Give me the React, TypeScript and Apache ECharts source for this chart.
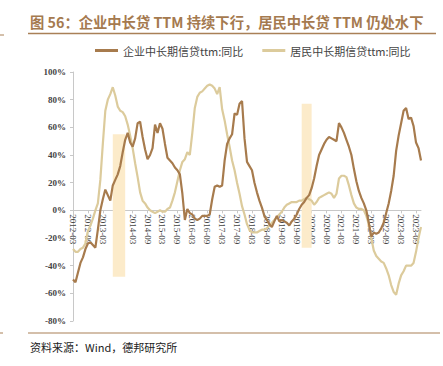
import React, { useEffect, useRef } from "react";
import * as echarts from "echarts";

// Monthly categories 2012-03 .. 2023-11
const months: string[] = [];
for (let y = 2012, m = 3; months.length < 141; ) {
  months.push(`${y}-${m < 10 ? "0" + m : m}`);
  m++;
  if (m > 12) { m = 1; y++; }
}

const corpName = "企业中长期信贷ttm:同比";
const houseName = "居民中长期信贷ttm:同比";

const corpValues = [
  -50, -52, -45, -38, -34, -28, -24, -23, -25, -27,
  -14, 0, 8, 15, 11, 7, 18, 22, 26, 32,
  42, 51, 56, 49, 46, 52, 63, 64, 53, 44,
  37, 40, 45, 62, 56, 63, 59, 48, 38, 36,
  34, 31, 29, 26, 12, -7, 1, -2, -3, -6,
  -7, -6, -4, -4, -4, -3, 8, 17, 18, 17,
  18, 36, 48, 52, 55, 70, 69, 77, 79, 52,
  35, 32, 29, 20, 13, 7, 2, -4, -7, -10,
  -12, -8, -4, -8, -7, -8, -9, -11, -8, -6,
  -3, 1, 4, 6, 9, 11, 16, 23, 32, 40,
  44, 48, 51, 53, 52, 51, 50, 63, 60, 56,
  51, 46, 40, 30, 21, 14, 9, 5, 0, -9,
  -19, -16, -17, -16, -13, -9, -2, 5, 14, 25,
  43, 54, 63, 72, 74, 66, 67, 61, 49, 45,
  36,
];

const houseValues = [
  -28, -30, -30, -28, -27, -24, -15, -11, -6, 0,
  5, 22, 48, 72, 80, 84, 89, 83, 75, 72,
  71, 68, 62, 54, 45, 34, 24, 13, 7, 5,
  2, 0, -1, -2, -1, 0, -1, -1, 1, 2,
  7, 13, 21, 29, 35, 37, 42, 40, 56, 74,
  82, 85, 86, 88, 90, 91, 90, 88, 84, 89,
  73, 65, 55, 46, 36, 29, 20, 12, 3, -3,
  -10, -14, -16, -16, -16, -15, -14, -14, -13, -11,
  -9, -7, -5, -3, -1, 2, 4, 5, 6, 6,
  6, 7, 7, 8, 9, 8, 7, 4, 6, 9,
  10, 11, 12, 13, 12, 9, 12, 23, 25, 25,
  24, 18, 11, 5, 2, 1, 1, 0, -4, -10,
  -20, -29, -33, -35, -37, -38, -42, -47, -54, -59,
  -61, -53, -47, -44, -40, -40, -40, -38, -30, -20,
  -12,
];

// shaded periods
const bandStarts = ["2013-07", "2019-11"];
const bandEnds = ["2013-12", "2020-03"];
const bandTops = [55, 77];
const bandBottoms = [-48, -27];

const yTicks = { min: -80, max: 100, interval: 20 };

const title = "图 56：企业中长贷 TTM 持续下行，居民中长贷 TTM 仍处水下";
const source = "资料来源：Wind，德邦研究所";

const GRID_TOP = 72;
const GRID_BOTTOM = 45;
const H = 366;

export default function App() {
  const ref = useRef<HTMLDivElement>(null);
  useEffect(() => {
    if (!ref.current) return;
    const chart = echarts.init(ref.current, null, { renderer: "svg" });
    const serif = "'Liberation Serif', 'DejaVu Serif', serif";
    const cjk = "'Noto Sans CJK SC', sans-serif";
    const plotH = H - GRID_TOP - GRID_BOTTOM;
    const zeroOffset =
      -((0 - yTicks.min) / (yTicks.max - yTicks.min)) * plotH;
    chart.setOption({
      animation: false,
      backgroundColor: "#ffffff",
      grid: { left: 73, right: 22, top: GRID_TOP, bottom: GRID_BOTTOM },
      legend: {
        data: [corpName, houseName],
        left: 90,
        top: 40,
        icon: "rect",
        itemWidth: 23,
        itemHeight: 3,
        itemGap: 19,
        textStyle: { fontFamily: cjk, fontSize: 11, color: "#444" },
      },
      xAxis: {
        type: "category",
        data: months,
        boundaryGap: false,
        offset: zeroOffset,
        axisLine: { onZero: false, lineStyle: { color: "#c8c8c8", width: 1 } },
        axisTick: { show: true, interval: 5, length: 3, lineStyle: { color: "#c8c8c8" } },
        axisLabel: {
          interval: 5,
          rotate: -90,
          fontFamily: serif,
          fontSize: 9,
          color: "#444",
          margin: 4,
        },
        splitLine: { show: false },
      },
      yAxis: {
        type: "value",
        min: yTicks.min,
        max: yTicks.max,
        interval: yTicks.interval,
        axisLine: { show: true, lineStyle: { color: "#c8c8c8" } },
        axisTick: { show: true, length: 3, lineStyle: { color: "#c8c8c8" } },
        axisLabel: {
          formatter: (v: number) => `${v}%`,
          fontFamily: serif,
          fontWeight: "bold",
          fontSize: 9,
          color: "#444",
          margin: 7,
        },
        splitLine: { show: false },
      },
      series: [
        {
          name: "bands",
          type: "line",
          data: [],
          z: 1,
          silent: true,
          markArea: {
            silent: true,
            itemStyle: { color: "#fcebca" },
            data: bandStarts.map((s, i) => [
              { xAxis: s, yAxis: bandTops[i] },
              { xAxis: bandEnds[i], yAxis: bandBottoms[i] },
            ]),
          },
        },
        {
          name: houseName,
          type: "line",
          data: houseValues,
          showSymbol: false,
          z: 3,
          lineStyle: { color: "#dccb9c", width: 2.2 },
          itemStyle: { color: "#dccb9c" },
        },
        {
          name: corpName,
          type: "line",
          data: corpValues,
          showSymbol: false,
          z: 4,
          lineStyle: { color: "#a77b4d", width: 2.2 },
          itemStyle: { color: "#a77b4d" },
        },
      ],
      graphic: [
        {
          type: "text",
          left: 30,
          top: 14,
          style: {
            text: title,
            fontFamily: cjk,
            fontWeight: "bold",
            fontSize: 14.3,
            fill: "#a57a4f",
          },
        },
        {
          type: "line",
          shape: { x1: 28, y1: 33.5, x2: 436, y2: 33.5 },
          style: { stroke: "#a98057", lineWidth: 1.5 },
        },
        {
          type: "line",
          shape: { x1: 0, y1: 35, x2: 4, y2: 35 },
          style: { stroke: "#a98057", lineWidth: 1 },
        },
        {
          type: "line",
          shape: { x1: 28, y1: 333, x2: 440, y2: 333 },
          style: { stroke: "#a98057", lineWidth: 1.2 },
        },
        {
          type: "line",
          shape: { x1: 0, y1: 333, x2: 3, y2: 333 },
          style: { stroke: "#a98057", lineWidth: 1 },
        },
        {
          type: "text",
          left: 30,
          top: 341,
          style: {
            text: source,
            fontFamily: cjk,
            fontSize: 11,
            fill: "#222",
          },
        },
      ],
    });
    return () => chart.dispose();
  }, []);
  return (
    <div
      ref={ref}
      style={{ position: "fixed", left: 0, top: 0, width: 443, height: 366 }}
    />
  );
}
